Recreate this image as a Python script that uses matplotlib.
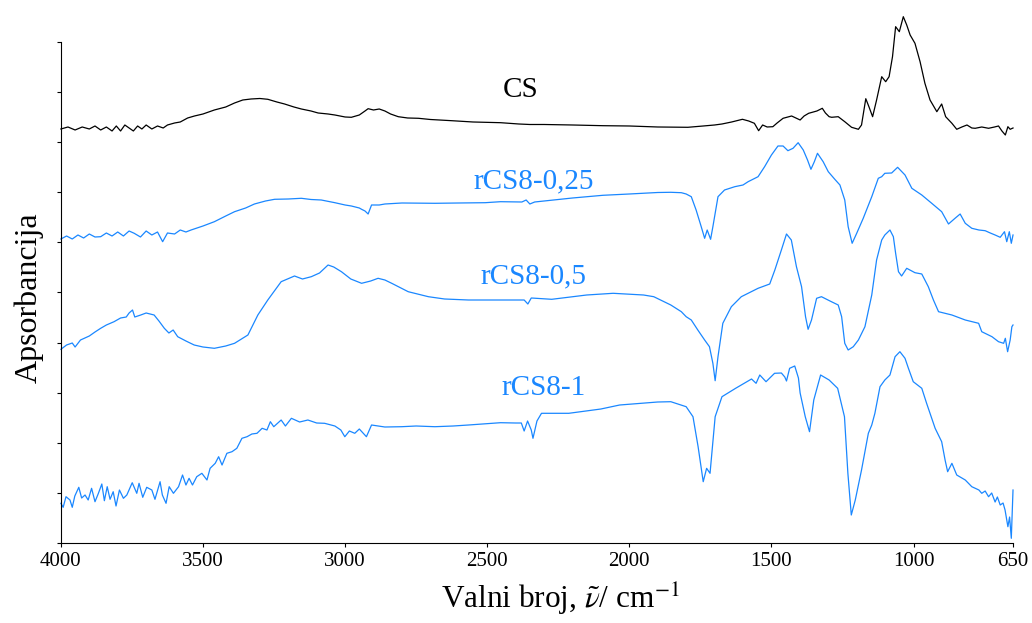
import numpy as np
import matplotlib.pyplot as plt

# Spektri (valni broj / cm-1, apsorbancija u proizvoljnim jedinicama, s pomakom)
cs_wn = [4000, 3975, 3950, 3925, 3900, 3880, 3860, 3840, 3820, 3805, 3790, 3775, 3760, 3745, 3730, 3715,
         3700, 3680, 3660, 3640, 3625, 3600, 3580, 3554, 3530, 3500, 3460, 3420, 3389, 3360, 3331, 3300,
         3272, 3240, 3213, 3180, 3154, 3120, 3095, 3060, 3036, 3000, 2978, 2950, 2930, 2919, 2900, 2880,
         2860, 2840, 2813, 2780, 2742, 2700, 2625, 2550, 2453, 2389, 2350, 2300, 2200, 2093, 2000, 1900,
         1794, 1740, 1700, 1674, 1640, 1602, 1580, 1560, 1545, 1531, 1515, 1495, 1480, 1459, 1429, 1399,
         1385, 1369, 1340, 1321, 1310, 1297, 1288, 1265, 1242, 1218, 1194, 1183, 1168, 1157, 1144, 1130,
         1112, 1098, 1086, 1074, 1063, 1050, 1036, 1024, 1012, 995, 977, 960, 942, 918, 901, 887,
         865, 848, 830, 812, 795, 783, 760, 736, 715, 701, 689, 677, 668, 660, 650]
cs_a = [414, 416, 413, 416, 414, 417, 413, 416, 412, 417, 412, 418, 415, 412, 417, 414,
        418, 414, 417, 415, 418, 420, 421, 425, 427, 429, 433, 436, 440, 443, 444, 444.5,
        443.7, 441, 439, 436, 434, 432, 430, 429, 428, 426, 425.7, 428, 432, 434.3, 433, 434,
        432, 429, 426.3, 425, 424.7, 423.5, 422.3, 421, 420.3, 419, 418.5, 418.5, 418, 417.3, 417, 416,
        415.7, 417, 418, 419, 421, 423.7, 422, 419.7, 412.3, 418, 416, 416.3, 420, 424.7, 427, 423,
        427, 429.7, 432, 434.7, 430, 426.3, 425.7, 426.3, 421.3, 415.7, 413.7, 418, 444.3, 436.3, 426.3, 443,
        466.3, 461.3, 466.3, 486.3, 516.3, 511.3, 526.3, 518, 508, 499.7, 481.3, 459.7, 443, 431.3, 439, 426.3,
        419.7, 413.7, 416, 418, 415, 414.7, 416, 414.7, 416, 417, 412, 408, 416.3, 413.7, 415]

r025_wn = [4000, 3980, 3960, 3940, 3920, 3900, 3880, 3860, 3840, 3820, 3800, 3780, 3760, 3742, 3720, 3700,
           3680, 3660, 3642, 3625, 3600, 3580, 3560, 3542, 3500, 3460, 3420, 3389, 3350, 3319, 3280, 3248,
           3200, 3154, 3120, 3084, 3036, 3000, 2978, 2950, 2942, 2930, 2919, 2907, 2880, 2860, 2800, 2684,
           2600, 2507, 2453, 2378, 2363, 2350, 2333, 2200, 2093, 2000, 1900, 1854, 1817, 1800, 1782, 1765,
           1747, 1735, 1726, 1714, 1706, 1688, 1665, 1629, 1600, 1582, 1547, 1524, 1500, 1477, 1459, 1442,
           1424, 1406, 1388, 1373, 1361, 1349, 1338, 1318, 1300, 1277, 1259, 1242, 1230, 1216, 1200, 1177,
           1147, 1124, 1112, 1101, 1077, 1056, 1030, 1006, 971, 936, 901, 877, 854, 836, 818, 795,
           770, 748, 730, 713, 695, 680, 672, 663, 656, 650]
r025_a = [304, 307, 304, 308, 305, 309, 306, 306.3, 310, 307, 311, 307, 312, 309.7, 306, 312,
          308, 311, 301.3, 310, 309, 313, 311, 313, 317, 321.3, 327, 331.3, 335, 339, 342, 343.7,
          344, 344.7, 343.5, 343, 340.3, 338, 337, 335, 333.7, 332, 329, 338, 338, 339, 340, 339.7,
          340, 340.3, 341.3, 341, 343, 339, 341, 345, 347.7, 349, 350.5, 350.7, 350.3, 349, 346.3, 333,
          316.3, 304.7, 313, 303.7, 316.3, 346.3, 353, 356.3, 358, 361.3, 366.3, 376.3, 388, 397, 397, 392.3,
          394.7, 400.3, 393, 383, 373.7, 381.3, 389.7, 381.3, 371.3, 363.7, 358, 343, 316.3, 299.7, 309.7, 324.7,
          346.3, 364.7, 366.3, 369.7, 370, 375.7, 368, 354.7, 348, 339.7, 331.3, 319, 324.7, 329, 319.7, 314.7,
          313, 312.3, 310, 308, 305.7, 311.3, 301.3, 311.3, 299.7, 308]

r05_wn = [4000, 3980, 3960, 3950, 3931, 3900, 3880, 3860, 3840, 3813, 3790, 3770, 3760, 3748, 3740, 3719,
          3700, 3672, 3655, 3636, 3620, 3605, 3589, 3560, 3531, 3500, 3460, 3420, 3389, 3342, 3307, 3272,
          3225, 3178, 3150, 3119, 3090, 3060, 3040, 3013, 2980, 2942, 2910, 2884, 2860, 2836, 2778, 2707,
          2650, 2566, 2453, 2370, 2357, 2345, 2273, 2150, 2057, 1950, 1914, 1854, 1817, 1800, 1782, 1759,
          1735, 1718, 1706, 1698, 1688, 1671, 1641, 1606, 1547, 1506, 1488, 1465, 1447, 1430, 1412, 1394,
          1380, 1371, 1359, 1341, 1324, 1289, 1265, 1253, 1242, 1230, 1212, 1194, 1171, 1147, 1130, 1112,
          1101, 1083, 1071, 1063, 1053, 1042, 1024, 995, 971, 948, 930, 912, 865, 818, 771, 760,
          724, 701, 683, 677, 669, 660, 654, 650]
r05_a = [193.7, 198, 200, 196, 203, 207, 211, 214.7, 218, 221.3, 225, 226, 230, 233, 226, 228,
         230, 228, 222, 214.7, 210, 213, 206.3, 202, 198, 196, 194.7, 197, 199.7, 208, 228, 243,
         261.3, 267, 264, 266.3, 270, 278, 276, 271.3, 264, 259.7, 262, 264.7, 263, 259.7, 251.3, 246.3,
         244, 243, 243, 243, 239, 245, 243.7, 248, 249.7, 248, 246.3, 238, 231.3, 226.3, 223, 213,
         203, 196.3, 179.7, 162.3, 186.3, 219.7, 236.3, 246.3, 254.7, 259, 273, 293, 309, 303, 276.3, 256.3,
         226.3, 213.7, 223, 244.7, 246.3, 241.3, 238, 226.3, 199.7, 193, 196.3, 203, 216.3, 248, 283, 303,
         308, 313, 306.3, 289.7, 271.3, 267, 274.7, 270.3, 269, 256.3, 243, 231.3, 228, 223, 219.7, 211.3,
         206.3, 201.3, 199.7, 204.7, 191.3, 203, 216.3, 218]

r1_wn = [4000, 3992, 3982, 3968, 3960, 3951, 3937, 3927, 3915, 3904, 3892, 3880, 3868, 3856, 3847, 3837,
         3827, 3816, 3806, 3794, 3780, 3768, 3749, 3733, 3725, 3712, 3698, 3680, 3669, 3651, 3643, 3630,
         3619, 3604, 3586, 3572, 3560, 3549, 3537, 3522, 3504, 3486, 3475, 3457, 3445, 3433, 3416, 3398,
         3381, 3363, 3345, 3328, 3310, 3292, 3275, 3263, 3251, 3225, 3210, 3189, 3160, 3131, 3100, 3072,
         3036, 3015, 3001, 2985, 2966, 2950, 2925, 2907, 2860, 2801, 2750, 2684, 2620, 2566, 2453, 2400,
         2380, 2370, 2358, 2345, 2339, 2325, 2309, 2213, 2100, 2034, 1900, 1854, 1800, 1776, 1758, 1740,
         1728, 1716, 1698, 1674, 1626, 1570, 1554, 1541, 1519, 1489, 1465, 1453, 1447, 1436, 1418, 1405,
         1399, 1381, 1366, 1351, 1327, 1297, 1267, 1243, 1231, 1219, 1205, 1183, 1159, 1147, 1136, 1118,
         1101, 1083, 1065, 1048, 1030, 1018, 1001, 971, 954, 924, 901, 889, 880, 865, 848, 818,
         795, 770, 760, 748, 736, 725, 713, 705, 695, 685, 678, 668, 662, 656, 650]
r1_a = [39.7, 35.7, 46.3, 43, 35.7, 47, 55.7, 45, 48, 43, 54.7, 41.3, 49.7, 59, 42.3, 56.3,
        43.7, 51.3, 37, 53, 44.7, 48, 60.3, 49.7, 59.7, 45.7, 55.7, 53, 43.7, 61.3, 48, 39.7,
        56.3, 49.7, 56.3, 68, 58, 64.7, 58, 66.3, 69.7, 63, 74.7, 79.7, 86.3, 78, 89.7, 91.3,
        94.7, 104.7, 106.3, 109, 109.7, 114.7, 113, 121.3, 116.3, 123, 117, 124.7, 121, 123, 120, 119.7,
        117, 113, 106.3, 112, 109.7, 114, 106.3, 118, 116, 116.3, 117, 116.3, 117, 118, 120.3, 120,
        120, 112, 122, 113, 104.7, 122, 129.7, 129.7, 134, 138, 141, 141.3, 136.3, 126.3, 96.3, 61.3,
        74.7, 69.7, 126.3, 146.3, 154.7, 164, 159.7, 168, 161.3, 169.7, 170, 166, 162, 174.7, 177, 165,
        150, 126.3, 111.3, 143, 168, 163, 154.7, 126.3, 69.7, 28, 43, 73, 109.7, 118, 129.7, 156.3,
        163, 168, 186.3, 191.3, 184.7, 174.7, 161.3, 154.7, 139.7, 114.7, 101.3, 83, 71.3, 79.7, 68, 63,
        56.3, 53, 49.7, 52, 46.3, 50, 41, 46, 38, 40, 33, 16.3, 26, 4.7, 53]

BLUE = "#1a87ff"
plt.rcParams["font.family"] = ["Liberation Serif", "DejaVu Serif"]
plt.rcParams["mathtext.fontset"] = "stix"

fig = plt.figure(figsize=(10.32, 6.23), dpi=100)
ax = fig.add_axes([0.059, 0.1284, 0.9226, 0.8042])

ax.plot(cs_wn, cs_a, color="k", lw=0.9, clip_on=False)
ax.plot(r025_wn, r025_a, color=BLUE, lw=0.9, clip_on=False)
ax.plot(r05_wn, r05_a, color=BLUE, lw=0.9, clip_on=False)
ax.plot(r1_wn, r1_a, color=BLUE, lw=0.9, clip_on=False)

# oznake uzoraka
ax.text(2382, 453, "CS", color="k", fontsize=21, ha="center", va="center")
ax.text(2336, 362, "rCS8-0,25", color=BLUE, fontsize=21, ha="center", va="center")
ax.text(2336, 267, "rCS8-0,5", color=BLUE, fontsize=21, ha="center", va="center")
ax.text(2300, 155, "rCS8-1", color=BLUE, fontsize=21, ha="center", va="center")

ax.set_xlim(4000, 650)
ax.set_ylim(0, 501)
ax.set_xticks([4000, 3500, 3000, 2500, 2000, 1500, 1000, 650])
ax.set_yticks(np.linspace(0, 501, 11))
ax.set_yticklabels([])
ax.tick_params(axis="x", labelsize=15, length=3, direction="out")
ax.tick_params(axis="y", length=3, direction="out")
for s in ["top", "right"]:
    ax.spines[s].set_visible(False)

ax.set_xlabel(r"Valni broj, $\tilde{\nu}$/ cm$^{-1}$", fontsize=22.5)
ax.xaxis.set_label_coords(0.525, -0.075)
ax.set_ylabel("Apsorbancija", fontsize=23)
ax.yaxis.set_label_coords(-0.018, 0.49)

fig.savefig("out.png", dpi=100)
